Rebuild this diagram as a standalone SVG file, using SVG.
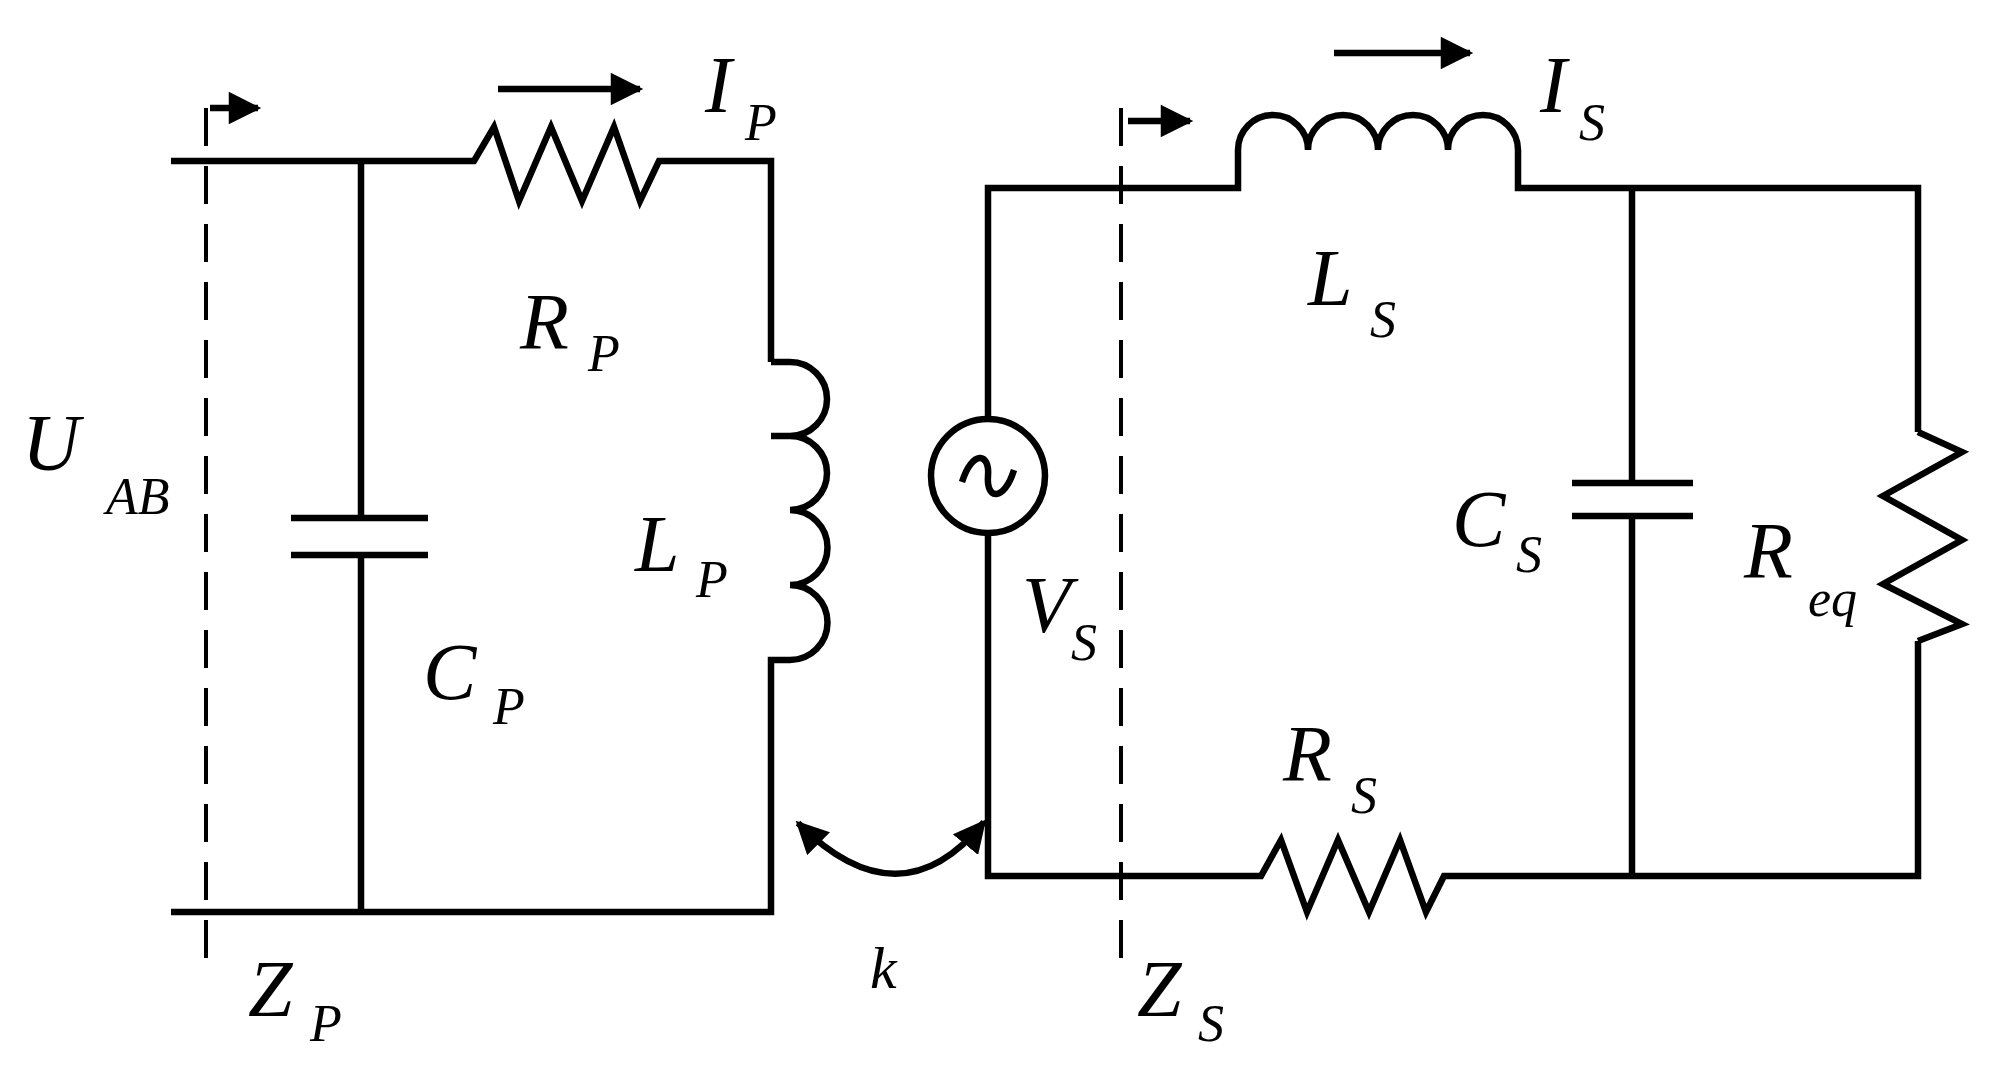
<svg xmlns="http://www.w3.org/2000/svg" width="1991" height="1083" viewBox="0 0 1991 1083">
<defs>
<style>
.w{fill:none;stroke:#000;stroke-width:6.5;stroke-linejoin:miter}
.d{fill:none;stroke:#000;stroke-width:4;stroke-dasharray:38 20}
.t{font-family:"Liberation Serif",serif;font-style:italic;font-size:80px}
.s{font-size:52px}
</style>
<marker id="ah" viewBox="0 0 10 10" refX="9" refY="5" markerWidth="6" markerHeight="5" markerUnits="strokeWidth" orient="auto"><path d="M0,0L10,5L0,10z"/></marker>
<marker id="ak" viewBox="0 0 10 10" refX="9" refY="5" markerWidth="5" markerHeight="5" markerUnits="strokeWidth" orient="auto-start-reverse"><path d="M0,0L10,5L0,10z"/></marker>
</defs>
<rect width="1991" height="1083" fill="#fff"/>
<g id="connectors">
<path class="w" d="M171,161H474L494,127L519,201L551,127L582,201L614,127L640,201L659,161H771V362"/>
<path class="w" d="M771,362H790A30,30 0 0 1 790,436H771M790,436A30,30 0 0 1 790,510M790,510A30,30 0 0 1 790,585M790,585A30,30 0 0 1 790,660H771V912H171"/>
<path class="w" d="M361,161V518M291,518H428M291,555H428M361,555V912"/>
<path class="d" d="M206,108V978"/>
<path class="w" d="M210,108H258" marker-end="url(#ah)"/>
<path class="w" d="M498,89H640" marker-end="url(#ah)"/>
<path class="w" d="M988,419V188H1238V150A35,35 0 0 1 1308,150A35,35 0 0 1 1378,150A35,35 0 0 1 1448,150A35,35 0 0 1 1518,150V188H1918V432"/>
<circle class="w" cx="988" cy="476" r="57"/>
<path class="w" d="M962,482C972,450 990,452 988,476C986,500 1004,502 1014,470"/>
<path class="w" d="M988,533V876H1261L1281,840L1307,912L1338,840L1369,912L1400,840L1426,912L1444,876H1918V641"/>
<path class="w" d="M1918,432L1962,452L1883,496L1962,540L1883,584L1962,624L1918,641"/>
<path class="w" d="M1632,188V483M1572,483H1693M1572,516H1693M1632,516V876"/>
<path class="d" d="M1121,108V972"/>
<path class="w" d="M1128,121H1190" marker-end="url(#ah)"/>
<path class="w" d="M1334,53H1470" marker-end="url(#ah)"/>
<path class="w" d="M798,823Q900,925 984,822" marker-start="url(#ak)" marker-end="url(#ak)"/>
</g>
<g id="labels" class="t">
<text x="22" y="470">U<tspan class="s" x="106" y="514">AB</tspan></text>
<text x="520" y="349">R<tspan class="s" x="588" y="371">P</tspan></text>
<text x="635" y="571">L<tspan class="s" x="696" y="597">P</tspan></text>
<text x="423" y="699">C<tspan class="s" x="493" y="724">P</tspan></text>
<text x="248" y="1016">Z<tspan class="s" x="310" y="1041">P</tspan></text>
<text x="705" y="112">I<tspan class="s" x="745" y="140">P</tspan></text>
<text x="870" y="988" style="font-size:60px">k</text>
<text x="1022" y="632">V<tspan class="s" x="1071" y="660">S</tspan></text>
<text x="1137" y="1016">Z<tspan class="s" x="1198" y="1041">S</tspan></text>
<text x="1308" y="305">L<tspan class="s" x="1370" y="337">S</tspan></text>
<text x="1452" y="546">C<tspan class="s" x="1516" y="572">S</tspan></text>
<text x="1744" y="578">R<tspan class="s" x="1808" y="616">eq</tspan></text>
<text x="1283" y="781">R<tspan class="s" x="1351" y="813">S</tspan></text>
<text x="1540" y="112">I<tspan class="s" x="1579" y="140">S</tspan></text>
</g>
</svg>
